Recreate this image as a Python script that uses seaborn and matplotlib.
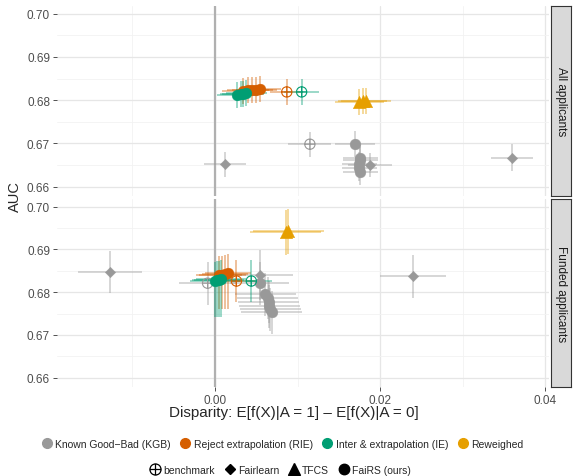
import numpy as np
import pandas as pd
import seaborn as sns
import matplotlib.pyplot as plt
from matplotlib.lines import Line2D
from matplotlib.path import Path

# ---- data (disparity, AUC, error half-widths) ----
all_group = ["KGB", "KGB", "KGB", "KGB",
             "KGB", "KGB", "KGB", "KGB", "KGB", "KGB",
             "RIE", "RIE", "RIE", "RIE", "RIE", "RIE",
             "IE", "IE", "IE", "IE", "IE",
             "Reweighed", "Reweighed", "Reweighed"]
all_method = ["benchmark", "Fairlearn", "Fairlearn", "Fairlearn",
              "FaiRS", "FaiRS", "FaiRS", "FaiRS", "FaiRS", "FaiRS",
              "benchmark", "FaiRS", "FaiRS", "FaiRS", "FaiRS", "FaiRS",
              "benchmark", "FaiRS", "FaiRS", "FaiRS", "FaiRS",
              "TFCS", "TFCS", "TFCS"]
all_x = [0.0115, 0.0012, 0.0188, 0.0360,
         0.0170, 0.0176, 0.0176, 0.0175, 0.0175, 0.0176,
         0.0087, 0.0034, 0.0040, 0.0045, 0.0050, 0.0055,
         0.0105, 0.0027, 0.0031, 0.0034, 0.0038,
         0.0175, 0.0179, 0.0183]
all_y = [0.6698, 0.6651, 0.6649, 0.6667,
         0.6698, 0.6667, 0.6661, 0.6651, 0.6642, 0.6633,
         0.6819, 0.6821, 0.6823, 0.6823, 0.6823, 0.6825,
         0.6819, 0.6812, 0.6814, 0.6814, 0.6816,
         0.6795, 0.6797, 0.6797]
all_xerr = [0.0026, 0.0025, 0.0027, 0.0026,
            0.0024, 0.0021, 0.0021, 0.0021, 0.0021, 0.0021,
            0.0020, 0.0025, 0.0025, 0.0025, 0.0025, 0.0025,
            0.0021, 0.0025, 0.0025, 0.0025, 0.0025,
            0.0030, 0.0030, 0.0030]
all_yerr_lo = [0.0029, 0.0030, 0.0028, 0.0031,
               0.0030, 0.0030, 0.0030, 0.0030, 0.0030, 0.0030,
               0.0030, 0.0030, 0.0030, 0.0030, 0.0030, 0.0030,
               0.0030, 0.0030, 0.0030, 0.0030, 0.0030,
               0.0030, 0.0030, 0.0030]
all_yerr_hi = all_yerr_lo

funded_group = ["KGB", "KGB", "KGB", "KGB",
                "KGB", "KGB", "KGB", "KGB", "KGB", "KGB", "KGB",
                "RIE", "RIE", "RIE", "RIE", "RIE",
                "IE", "IE", "IE", "IE", "IE",
                "Reweighed", "Reweighed"]
funded_method = ["benchmark", "Fairlearn", "Fairlearn", "Fairlearn",
                 "FaiRS", "FaiRS", "FaiRS", "FaiRS", "FaiRS", "FaiRS", "FaiRS",
                 "benchmark", "FaiRS", "FaiRS", "FaiRS", "FaiRS",
                 "benchmark", "FaiRS", "FaiRS", "FaiRS", "FaiRS",
                 "TFCS", "TFCS"]
funded_x = [-0.0009, -0.0127, 0.0054, 0.0240,
            0.0054, 0.0061, 0.0064, 0.0065, 0.0066, 0.0067, 0.0069,
            0.0026, 0.0005, 0.0009, 0.0012, 0.0016,
            0.0044, 0.0000, 0.0002, 0.0005, 0.0007,
            0.0086, 0.0089]
funded_y = [0.6821, 0.6847, 0.6840, 0.6837,
            0.6821, 0.6795, 0.6786, 0.6777, 0.6767, 0.6760, 0.6753,
            0.6826, 0.6840, 0.6840, 0.6842, 0.6844,
            0.6826, 0.6826, 0.6828, 0.6828, 0.6830,
            0.6940, 0.6942]
funded_xerr = [0.0035, 0.0039, 0.0040, 0.0040,
               0.0036, 0.0037, 0.0037, 0.0037, 0.0037, 0.0037, 0.0037,
               0.0022, 0.0028, 0.0028, 0.0028, 0.0028,
               0.0025, 0.0030, 0.0030, 0.0030, 0.0030,
               0.0043, 0.0043]
funded_yerr_lo = [0.0050, 0.0050, 0.0058, 0.0050,
                  0.0050, 0.0050, 0.0050, 0.0050, 0.0050, 0.0050, 0.0050,
                  0.0050, 0.0080, 0.0080, 0.0082, 0.0084,
                  0.0050, 0.0084, 0.0086, 0.0086, 0.0088,
                  0.0053, 0.0053]
funded_yerr_hi = [0.0050, 0.0050, 0.0058, 0.0050,
                  0.0050, 0.0050, 0.0050, 0.0050, 0.0050, 0.0050, 0.0050,
                  0.0050, 0.0045, 0.0045, 0.0045, 0.0045,
                  0.0050, 0.0045, 0.0045, 0.0045, 0.0045,
                  0.0053, 0.0053]

groups = ["KGB", "RIE", "IE", "Reweighed"]
group_labels = ["Known Good\u2212Bad (KGB)", "Reject extrapolation (RIE)",
                "Inter & extrapolation (IE)", "Reweighed"]
methods = ["benchmark", "Fairlearn", "TFCS", "FaiRS"]
method_labels = ["benchmark", "Fairlearn", "TFCS", "FaiRS (ours)"]
palette = {"KGB": "#999999", "RIE": "#D55E00", "IE": "#009E73", "Reweighed": "#E69F00"}

# circle with a plus inside (ggplot shape 10)
circ = Path.unit_circle()
cross = Path([(-1, 0), (1, 0), (0, -1), (0, 1)],
             [Path.MOVETO, Path.LINETO, Path.MOVETO, Path.LINETO])
oplus = Path.make_compound_path(circ, cross)
markers = {"benchmark": oplus, "Fairlearn": "D", "TFCS": "^", "FaiRS": "o"}
sizes = {"benchmark": 55, "Fairlearn": 28, "TFCS": 80, "FaiRS": 60}

frames = {
    "All applicants": pd.DataFrame(dict(group=all_group, method=all_method, x=all_x,
                                        y=all_y, xerr=all_xerr, lo=all_yerr_lo,
                                        hi=all_yerr_hi)),
    "Funded applicants": pd.DataFrame(dict(group=funded_group, method=funded_method,
                                           x=funded_x, y=funded_y, xerr=funded_xerr,
                                           lo=funded_yerr_lo, hi=funded_yerr_hi)),
}

sns.set_theme(style="white")
plt.rcParams["font.family"] = ["Liberation Sans", "DejaVu Sans"]

fig = plt.figure(figsize=(5.73, 4.77), dpi=100)
W, H = 573, 477
boxes = {"All applicants": (7, 197), "Funded applicants": (200, 388)}
left, right = 57, 549

for i, (name, df) in enumerate(frames.items()):
    top, bot = boxes[name]
    ax = fig.add_axes([left / W, 1 - bot / H, (right - left) / W, (bot - top) / H])
    ax.set_xlim(-0.01915, 0.04048)
    ax.set_ylim(0.6578, 0.7018)
    ax.set_xticks([0.0, 0.02, 0.04])
    ax.set_xticks([-0.01, 0.01, 0.03], minor=True)
    ax.set_yticks([0.66, 0.67, 0.68, 0.69, 0.70])
    ax.set_yticks([0.665, 0.675, 0.685, 0.695], minor=True)
    ax.grid(True, which="major", color="#e6e6e6", lw=0.9)
    ax.grid(True, which="minor", color="#f2f2f2", lw=0.6)
    ax.set_axisbelow(True)
    for s in ax.spines.values():
        s.set_visible(False)
    ax.axvline(0, color="#b0b0b0", lw=1.6, zorder=1)

    for g in groups:
        for m in methods:
            sub = df[(df.group == g) & (df.method == m)]
            if sub.empty:
                continue
            c = palette[g]
            ax.errorbar(sub.x, sub.y, xerr=sub.xerr, yerr=[sub.lo, sub.hi], fmt="none",
                        ecolor=c, elinewidth=1.1, alpha=0.5, capsize=0, zorder=2)
            if m == "benchmark":
                sns.scatterplot(data=sub, x="x", y="y", ax=ax, marker=markers[m],
                                s=sizes[m], facecolor="none", edgecolor=c,
                                linewidth=0.8, zorder=3, legend=False)
            else:
                sns.scatterplot(data=sub, x="x", y="y", ax=ax, marker=markers[m],
                                s=sizes[m], color=c, edgecolor=c, linewidth=0.3,
                                zorder=3, legend=False)

    ax.set_xlabel("")
    ax.set_ylabel("")
    ax.tick_params(axis="both", which="major", length=3, width=0.6, color="#333333",
                   labelsize=8.5, labelcolor="#4d4d4d", pad=2, left=True, bottom=True)
    ax.tick_params(axis="both", which="minor", length=0)
    ax.set_yticklabels(["0.66", "0.67", "0.68", "0.69", "0.70"])
    if i == 0:
        ax.tick_params(axis="x", labelbottom=False, length=0)
    else:
        ax.set_xticklabels(["0.00", "0.02", "0.04"])

    # facet strip
    sax = fig.add_axes([551 / W, 1 - bot / H, 20 / W, (bot - top) / H])
    sax.set_facecolor("#d9d9d9")
    sax.set_xticks([])
    sax.set_yticks([])
    for s in sax.spines.values():
        s.set_visible(True)
        s.set_color("#333333")
        s.set_linewidth(0.8)
    sax.text(0.5, 0.5, name, rotation=-90, ha="center", va="center",
             fontsize=8.5, color="#1a1a1a", transform=sax.transAxes)

fig.text(15 / W, 1 - 197 / H, "AUC", rotation=90, ha="center", va="center", fontsize=10.5)
fig.text(294 / W, 1 - 413 / H, "Disparity: E[f(X)|A = 1] \u2013 E[f(X)|A = 0]",
         ha="center", va="center", fontsize=11)

col_handles = [Line2D([], [], ls="", marker="o", ms=7, color=palette[g]) for g in groups]
fig.legend(col_handles, group_labels, loc="center", bbox_to_anchor=(282 / W, 1 - 445 / H),
           ncol=4, frameon=False, fontsize=7.5, handletextpad=0.2, columnspacing=0.8,
           handlelength=1.2, borderpad=0)
shp_handles = []
for m in methods:
    if m == "benchmark":
        shp_handles.append(Line2D([], [], ls="", marker=oplus, ms=8, mfc="none",
                                  mec="black", mew=0.9))
    else:
        ms = {"Fairlearn": 5.5, "TFCS": 8.5, "FaiRS": 7.5}[m]
        shp_handles.append(Line2D([], [], ls="", marker=markers[m], ms=ms, color="black"))
fig.legend(shp_handles, method_labels, loc="center", bbox_to_anchor=(280 / W, 1 - 471 / H),
           ncol=4, frameon=False, fontsize=7.5, handletextpad=0.2, columnspacing=0.8,
           handlelength=1.2, borderpad=0)

fig.savefig("out.png", dpi=100)
